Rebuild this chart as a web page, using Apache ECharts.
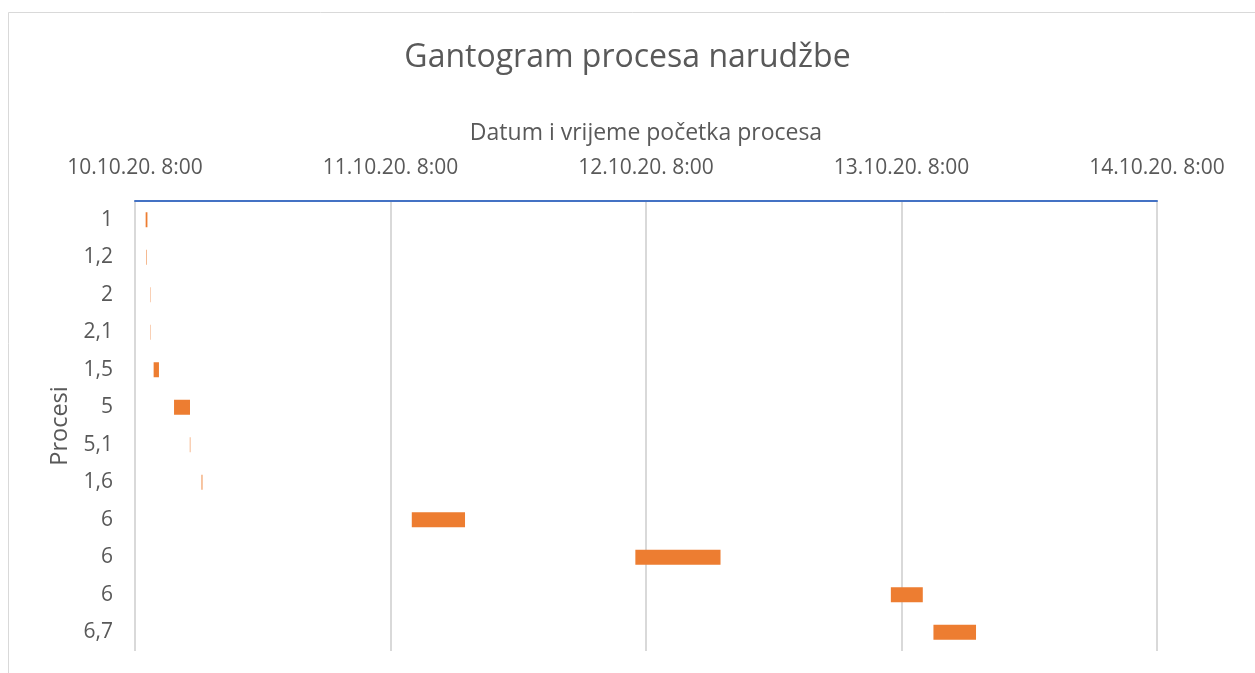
<!DOCTYPE html>
<html>
<head>
<meta charset="utf-8">
<script src="https://cdn.jsdelivr.net/npm/echarts@6/dist/echarts.min.js"></script>
<style>
  html, body { margin: 0; padding: 0; background: #fff; }
  #chart { width: 1255px; height: 673px; }
</style>
</head>
<body>
<div id="chart"></div>
<script>
// Process labels, top to bottom
const processes = ['1', '1,2', '2', '2,1', '1,5', '5', '5,1', '1,6', '6', '6', '6', '6,7'];
// Start of each process (date, time)
const startTimes = [
  ['2020-10-10', '09:00'],
  ['2020-10-10', '09:03'],
  ['2020-10-10', '09:27'],
  ['2020-10-10', '09:27'],
  ['2020-10-10', '09:45'],
  ['2020-10-10', '11:40'],
  ['2020-10-10', '13:09'],
  ['2020-10-10', '14:15'],
  ['2020-10-11', '10:00'],
  ['2020-10-12', '07:00'],
  ['2020-10-13', '07:00'],
  ['2020-10-13', '11:00']
];
// Duration of each process, minutes
const durationsMin = [10, 3, 2, 2, 30, 90, 3, 5, 300, 480, 180, 240];
// Axis origin and tick labels (one per day)
const axisStart = ['2020-10-10', '08:00'];
const xTickLabels = ['10.10.20. 8:00', '11.10.20. 8:00', '12.10.20. 8:00', '13.10.20. 8:00', '14.10.20. 8:00'];

function toMs(d) {
  const [y, m, day] = d[0].split('-').map(Number);
  const [h, mi] = d[1].split(':').map(Number);
  return Date.UTC(y, m - 1, day, h, mi);
}
const t0 = toMs(axisStart);
// offsets from the axis origin, in hours
const offsets = startTimes.map(s => (toMs(s) - t0) / 3600000);
const durations = durationsMin.map(m => m / 60);

const FONT = 'Open Sans';
const GREY = '#595959';

const chart = echarts.init(document.getElementById('chart'), null, { renderer: 'canvas' });
chart.setOption({
  animation: false,
  backgroundColor: '#fff',
  textStyle: { fontFamily: FONT },
  title: {
    text: 'Gantogram procesa narudžbe',
    left: 'center',
    top: 37,
    textStyle: { fontFamily: FONT, fontSize: 32, fontWeight: 'normal', color: GREY }
  },
  graphic: [{
    type: 'rect',
    shape: { x: 8.5, y: 12.5, width: 1300, height: 700 },
    style: { fill: 'none', stroke: '#d9d9d9', lineWidth: 1 },
    silent: true,
    z: -1
  }],
  grid: { left: 135, right: 98, top: 201, bottom: 22, containLabel: false },
  xAxis: {
    type: 'value',
    position: 'top',
    min: 0,
    max: 96,
    interval: 24,
    name: 'Datum i vrijeme početka procesa',
    nameLocation: 'middle',
    nameGap: 56,
    nameTextStyle: { fontFamily: FONT, fontSize: 23, color: GREY },
    axisLine: { show: true, lineStyle: { color: '#4472C4', width: 2 } },
    axisTick: { show: false },
    axisLabel: {
      margin: 22,
      fontFamily: FONT, fontSize: 21, color: GREY,
      formatter: v => xTickLabels[Math.round(v / 24)]
    },
    splitLine: { show: true, lineStyle: { color: '#d9d9d9', width: 2 } }
  },
  yAxis: {
    type: 'category',
    inverse: true,
    data: processes,
    name: 'Procesi',
    nameLocation: 'middle',
    nameRotate: 90,
    nameGap: 63,
    nameTextStyle: { fontFamily: FONT, fontSize: 23.5, color: GREY },
    axisLine: { show: false },
    axisTick: { show: false },
    axisLabel: { margin: 22, fontFamily: FONT, fontSize: 21, color: GREY },
    splitLine: { show: false }
  },
  series: [
    {
      name: 'Početak',
      type: 'bar',
      stack: 'gantt',
      data: offsets,
      itemStyle: { color: 'transparent' },
      barWidth: 15,
      silent: true
    },
    {
      name: 'Trajanje',
      type: 'bar',
      stack: 'gantt',
      data: durations,
      itemStyle: { color: '#ED7D31' },
      barWidth: 15
    }
  ]
});
</script>
</body>
</html>
